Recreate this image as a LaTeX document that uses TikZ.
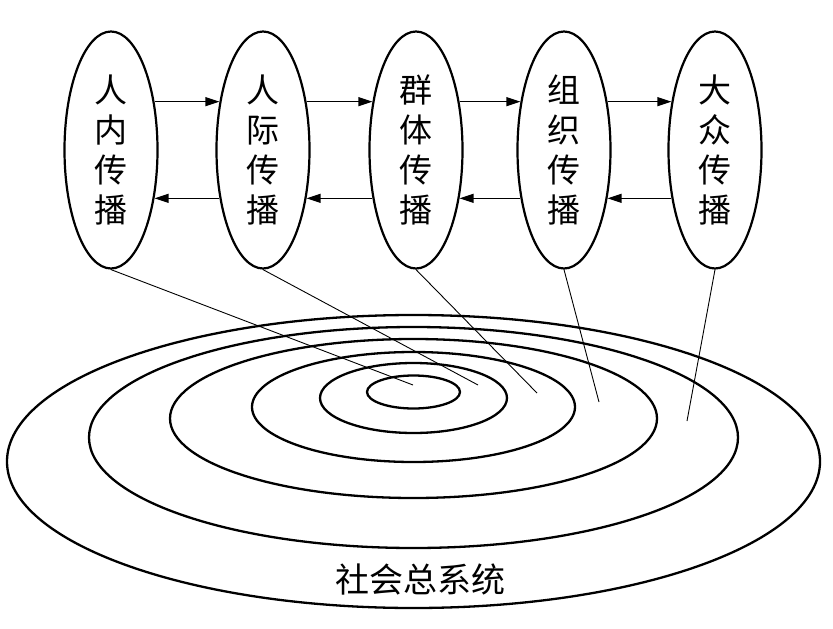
\documentclass[tikz,border=0pt]{standalone}
\usepackage{fontspec}
\setmainfont{Noto Sans CJK SC}
\usetikzlibrary{shapes.geometric,arrows.meta}
\begin{document}
\begin{tikzpicture}[x=1pt,y=-1pt,
  stage/.style={ellipse,draw,line width=2.2pt,minimum width=93pt,minimum height=237pt,
    inner sep=0pt,align=center,font=\fontsize{33}{40}\selectfont},
  flow/.style={line width=1.1pt,-{Triangle[length=14pt,width=9pt]}},
  lead/.style={line width=0.9pt},
  ring/.style={line width=2.3pt},
  caption/.style={font=\fontsize{34}{40}\selectfont}]
\useasboundingbox (0,0) rectangle (833,629);
% communication levels
\node[stage] (e1) at (111,150) {人\\内\\传\\播};
\node[stage] (e2) at (263,150) {人\\际\\传\\播};
\node[stage] (e3) at (416,150) {群\\体\\传\\播};
\node[stage] (e4) at (564,150) {组\\织\\传\\播};
\node[stage] (e5) at (715,150) {大\\众\\传\\播};
% arrows
\draw[flow] (e1.48) -- (e2.132);
\draw[flow] (e2.48) -- (e3.132);
\draw[flow] (e3.48) -- (e4.132);
\draw[flow] (e4.48) -- (e5.132);
\draw[flow] (e5.-132) -- (e4.-48);
\draw[flow] (e4.-132) -- (e3.-48);
\draw[flow] (e3.-132) -- (e2.-48);
\draw[flow] (e2.-132) -- (e1.-48);
% concentric rings
\draw[ring] (413.5,392) ellipse [x radius=46.5pt, y radius=16.5pt];
\draw[ring] (413.5,398) ellipse [x radius=93.5pt, y radius=35pt];
\draw[ring] (413.5,407) ellipse [x radius=161.5pt, y radius=55pt];
\draw[ring] (413.5,418.5) ellipse [x radius=243.5pt, y radius=79.5pt];
\draw[ring] (413.5,437.5) ellipse [x radius=324.5pt, y radius=110.5pt];
\draw[ring] (413.5,461.5) ellipse [x radius=406.5pt, y radius=146.5pt];
% leader lines
\coordinate (p1) at (413,385);
\coordinate (p2) at (478,385);
\coordinate (p3) at (537,393);
\coordinate (p4) at (599,402);
\coordinate (p5) at (687,421);
\draw[lead] (e1.south) -- (p1);
\draw[lead] (e2.south) -- (p2);
\draw[lead] (e3.south) -- (p3);
\draw[lead] (e4.south) -- (p4);
\draw[lead] (e5.south) -- (p5);
\node[caption] (sys) at (420,579) {社会总系统};
\end{tikzpicture}
\end{document}
